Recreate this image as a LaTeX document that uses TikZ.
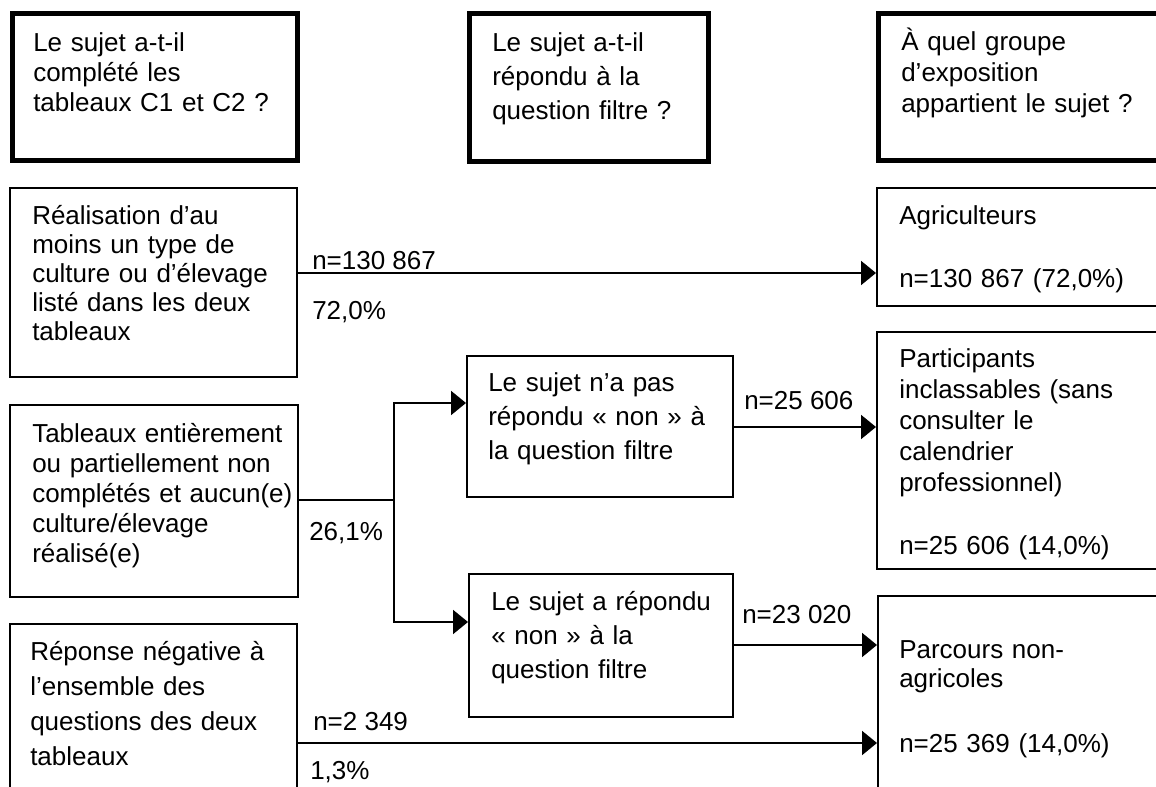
\documentclass[tikz,border=0pt]{standalone}
\usepackage{fontspec}
\setmainfont{Liberation Sans}
\usetikzlibrary{arrows.meta,fit,calc}
\begin{document}
\begin{tikzpicture}[x=0.75pt,y=-0.75pt,
  thickbox/.style={draw, line width=3.75pt, inner sep=0pt},
  thinbox/.style={draw, line width=1.5pt, inner sep=0pt},
  txt/.style={anchor=base west, inner sep=0pt, align=left, text width=260pt, font=\fontsize{19.5pt}{22.5pt}\selectfont},
  ls/.style={font=\fontsize{19.5pt}{#1}\selectfont},
  conn/.style={line width=1.5pt},
  arr/.style={line width=1.5pt, -{Triangle[length=11.25pt,width=18pt]}},
  lbl/.style={anchor=base west, inner sep=0pt, font=\fontsize{19.5pt}{22.5pt}\selectfont},
]
\useasboundingbox (0,0) rectangle (1156,787);
\fill[white] (0,0) rectangle (1156,787);
\clip (0,0) rectangle (1156,787);

% boxes
\node[thickbox, fit={(12,14) (297,161)}] (h1) {};
\node[thickbox, fit={(469,14) (708,162)}] (h2) {};
\node[thickbox, fit={(878,14) (1180,161)}] (h3) {};
\node[thinbox, fit={(10,188) (297,377)}] (b1) {};
\node[thinbox, fit={(877,188) (1180,306)}] (agri) {};
\node[thinbox, fit={(10,405) (298,597)}] (b2) {};
\node[thinbox, fit={(467,356) (733,497)}] (m1) {};
\node[thinbox, fit={(877,332) (1180,569)}] (part) {};
\node[thinbox, fit={(469,574) (733,717)}] (m2) {};
\node[thinbox, fit={(10,624) (297,800)}] (b3) {};
\node[thinbox, fit={(878,596) (1180,800)}] (parc) {};

% texts
\node[txt] (h1t) at (33,52) {Le sujet a-t-il\\complété les\\tableaux C1 et C2 ?};
\node[txt, ls=25.5pt] (h2t) at (492,52) {Le sujet a-t-il\\répondu à la\\question filtre ?};
\node[txt, ls=23.25pt] (h3t) at (901,51) {À quel groupe\\d’exposition\\appartient le sujet ?};
\node[txt, ls=21.75pt] (b1t) at (32,225) {Réalisation d’au\\moins un type de\\culture ou d’élevage\\listé dans les deux\\tableaux};
\node[txt] (b2t) at (32,443) {Tableaux entièrement\\ou partiellement non\\complétés et aucun(e)\\culture/élevage\\réalisé(e)};
\node[txt, ls=26.25pt] (b3t) at (30,660) {Réponse négative à\\l’ensemble des\\questions des deux\\tableaux};
\node[txt, ls=25.5pt] (m1t) at (488,392) {Le sujet n’a pas\\répondu « non » à\\la question filtre};
\node[txt, ls=25.5pt] (m2t) at (491,610) {Le sujet a répondu\\« non » à la\\question filtre};
\node[txt, ls=23.6pt] (agt) at (899,225) {Agriculteurs\\[23.6pt]n=130 867 (72,0\%)};
\node[txt, ls=23.25pt] (pat) at (899,368) {Participants\\inclassables (sans\\consulter le\\calendrier\\professionnel)\\[24pt]n=25 606 (14,0\%)};
\node[txt, ls=22pt] (pct) at (899,658) {Parcours non-\\agricoles\\[27pt]n=25 369 (14,0\%)};

% connector coordinates
\coordinate (y273) at (0,273);
\coordinate (jn) at (394,500);
\coordinate (y403) at (0,403);
\coordinate (y622) at (0,622);
\coordinate (y427) at (0,427);
\coordinate (y645) at (0,645);
\coordinate (y743) at (0,743);

% connectors
\draw[arr] (b1.east |- y273) -- (agri.west |- y273);
\draw[conn] (b2.east |- jn) -- (jn);
\draw[arr] (jn) |- (m1.west |- y403);
\draw[arr] (jn) |- (m2.west |- y622);
\draw[arr] (m1.east |- y427) -- (part.west |- y427);
\draw[arr] (m2.east |- y645) -- (parc.west |- y645);
\draw[arr] (b3.east |- y743) -- (parc.west |- y743);

% connector labels
\node[lbl] (l1) at (312,270) {n=130 867};
\node[lbl] (l2) at (312,320) {72,0\%};
\node[lbl] (l3) at (309,540) {26,1\%};
\node[lbl] (l4) at (744,410) {n=25 606};
\node[lbl] (l5) at (742,623) {n=23 020};
\node[lbl] (l6) at (313,730) {n=2 349};
\node[lbl] (l7) at (310,779) {1,3\%};
\end{tikzpicture}
\end{document}
